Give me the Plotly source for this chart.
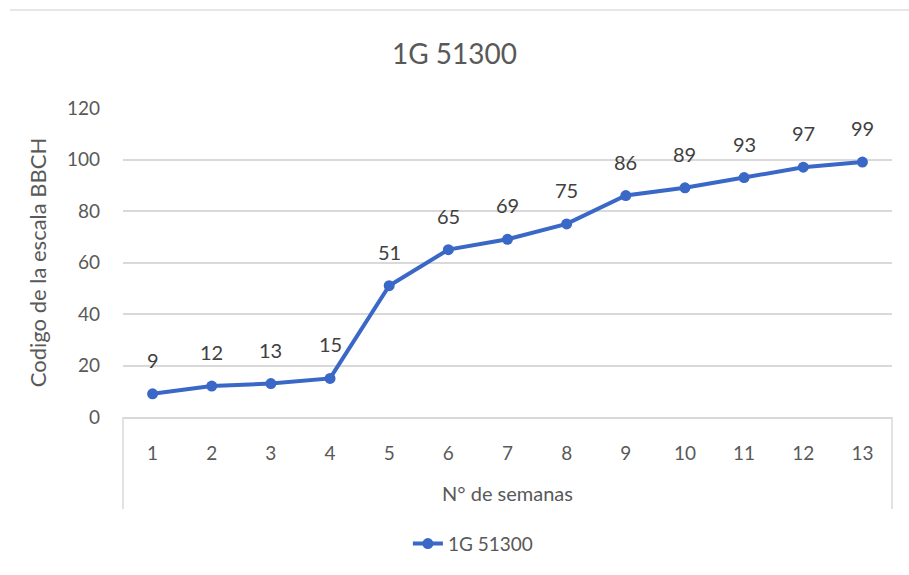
import plotly.graph_objects as go

# Weekly BBCH growth-stage codes for line 1G 51300
weeks = [1, 2, 3, 4, 5, 6, 7, 8, 9, 10, 11, 12, 13]
bbch = [9, 12, 13, 15, 51, 65, 69, 75, 86, 89, 93, 97, 99]
series_name = "1G 51300"
y_ticks = [0, 20, 40, 60, 80, 100, 120]

TEXT = "#595959"
GRID = "#d9d9d9"
BLUE = "#3a68c6"
FONT = "Lato"

fig = go.Figure()
fig.add_trace(go.Scatter(
    x=weeks,
    y=bbch,
    mode="lines+markers",
    name=series_name,
    line=dict(color=BLUE, width=4),
    marker=dict(color=BLUE, size=11),
))

# value labels above each point
for w, v in zip(weeks, bbch):
    fig.add_annotation(
        x=w, y=v, text=str(v), showarrow=False,
        yshift=34, font=dict(family=FONT, size=20, color="#404040"),
    )

# x-axis title sits inside the category box
fig.add_annotation(
    xref="paper", yref="paper", x=0.5, y=-0.247,
    text="N° de semanas", showarrow=False, yanchor="middle",
    font=dict(family=FONT, size=20, color=TEXT),
)

# category box sides and outer frame line
shapes = [
    dict(type="line", xref="paper", yref="paper", x0=0, x1=0, y0=0, y1=-0.298,
         line=dict(color=GRID, width=1.5)),
    dict(type="line", xref="paper", yref="paper", x0=1, x1=1, y0=0, y1=-0.298,
         line=dict(color=GRID, width=1.5)),
    dict(type="line", xref="paper", yref="paper", x0=-0.147, x1=1.03, y0=1.317, y1=1.317,
         line=dict(color="#e6e6e6", width=2)),
]

fig.update_layout(
    width=909, height=575,
    margin=dict(l=123, r=17, t=108, b=155),
    paper_bgcolor="white", plot_bgcolor="white",
    font=dict(family=FONT, color=TEXT),
    title=dict(text=series_name, x=0.5, xanchor="center", y=0.905, yanchor="middle",
               font=dict(family=FONT, size=28, color=TEXT)),
    shapes=shapes,
    showlegend=True,
    legend=dict(orientation="h", x=0.455, xanchor="center", y=-0.41, yanchor="middle",
                font=dict(family=FONT, size=19, color=TEXT)),
    xaxis=dict(
        showgrid=False, showline=True, linecolor=GRID, linewidth=1.5,
        tickvals=weeks, ticktext=[str(w) for w in weeks],
        ticks="", ticklabelstandoff=18, tickfont=dict(family=FONT, size=19, color=TEXT),
        range=[0.5, len(weeks) + 0.5], zeroline=False,
    ),
    yaxis=dict(
        range=[0, 120], tickvals=y_ticks, showgrid=True, gridcolor=GRID, gridwidth=1.5,
        zeroline=False, showline=False, ticks="", ticklabelstandoff=22,
        tickfont=dict(family=FONT, size=19, color=TEXT),
        title=dict(text="Codigo de la escala BBCH", standoff=14,
                   font=dict(family=FONT, size=22, color=TEXT)),
    ),
)

fig.write_html("out.html")
